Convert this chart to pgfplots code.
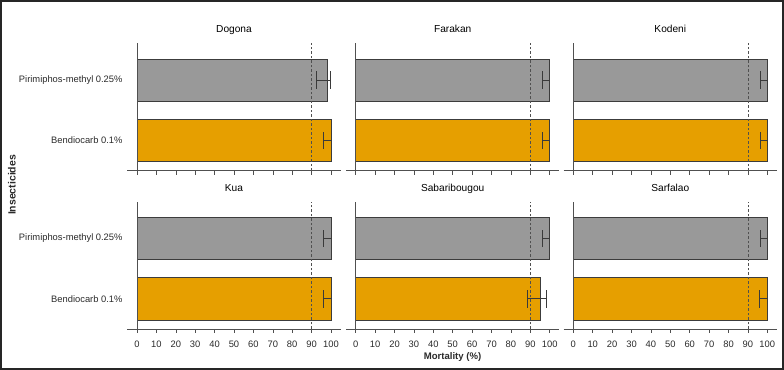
\documentclass[border=0pt]{standalone}
\usepackage{pgfplots}
\pgfplotsset{compat=1.18}
\usepackage{fontspec}
\setmainfont{Liberation Sans}
\definecolor{pgray}{HTML}{999999}
\definecolor{porange}{HTML}{E69F00}
\definecolor{edge}{HTML}{3C3C3C}
\definecolor{axisgray}{HTML}{505050}
\definecolor{errc}{HTML}{3A3A3A}
\definecolor{txt}{HTML}{2A2A2A}
\pgfplotsset{
  panel/.style={
    scale only axis, width=213.4bp, height=127.3bp,
    xmin=-5, xmax=105, ymin=-0.5, ymax=1.61,
    axis x line*=bottom, axis y line*=left,
    y axis line style={draw=none}, ytick style={draw=none},
    xtick={0,10,...,100}, ytick={0,1},
    xtick align=outside, major tick length=4bp,
    x axis line style={color=axisgray, line width=0.6bp},
    xtick style={color=axisgray, line width=0.6bp},
    tick label style={font=\fontsize{9.4}{10}\selectfont, color=txt},
    xticklabel style={anchor=base, yshift=-14bp},
    yticklabel style={inner sep=0pt, xshift=-4.6bp},
    /pgf/number format/assume math mode=true,
    title style={font=\fontsize{10.2}{12}\selectfont, anchor=base, yshift=4.6bp},
    anchor=north west, clip=false,
  },
  toprow/.style={xticklabels={}},
  firstcol/.style={yticklabels={Bendiocarb 0.1\%,Pirimiphos-methyl 0.25\%}},
  othercol/.style={yticklabels={}},
  barbase/.style={xbar, bar width=0.7, bar shift=0pt, draw=edge, line width=0.6bp},
  errboth/.style={error bars/.cd, x dir=both, x explicit,
    error bar style={color=errc, line width=0.8bp},
    error mark options={color=errc, line width=0.8bp, mark size=8.7bp, rotate=90}},
  errlow/.style={error bars/.cd, x dir=minus, x explicit,
    error bar style={color=errc, line width=0.8bp},
    error mark options={color=errc, line width=0.8bp, mark size=8.7bp, rotate=90}},
  refline/.style={color=axisgray, line width=0.7bp, dash pattern=on 2.5bp off 2bp},
  zeroline/.style={color=axisgray, line width=0.7bp},
}
\begin{document}
\begin{tikzpicture}
% ---- Row 1 ----
\begin{axis}[panel, toprow, firstcol, at={(127.3bp,326.7bp)}, title={Dogona}]
\addplot[barbase, fill=pgray, errboth] coordinates {(97.9,1) += (1.7,0) -= (5.5,0)};
\addplot[barbase, fill=porange, errlow] coordinates {(100,0) -= (4.0,0)};
\addplot[zeroline] coordinates {(0,-0.5) (0,1.61)};
\addplot[refline] coordinates {(90,-0.5) (90,1.61)};
\end{axis}
\begin{axis}[panel, toprow, othercol, at={(346.0bp,326.7bp)}, title={Farakan}]
\addplot[barbase, fill=pgray, errlow] coordinates {(100,1) -= (3.8,0)};
\addplot[barbase, fill=porange, errlow] coordinates {(100,0) -= (3.8,0)};
\addplot[zeroline] coordinates {(0,-0.5) (0,1.61)};
\addplot[refline] coordinates {(90,-0.5) (90,1.61)};
\end{axis}
\begin{axis}[panel, toprow, othercol, at={(563.6bp,326.7bp)}, title={Kodeni}]
\addplot[barbase, fill=pgray, errlow] coordinates {(100,1) -= (3.6,0)};
\addplot[barbase, fill=porange, errlow] coordinates {(100,0) -= (3.5,0)};
\addplot[zeroline] coordinates {(0,-0.5) (0,1.61)};
\addplot[refline] coordinates {(90,-0.5) (90,1.61)};
\end{axis}
% ---- Row 2 ----
\begin{axis}[panel, firstcol, at={(127.3bp,168.3bp)}, title={Kua}]
\addplot[barbase, fill=pgray, errlow] coordinates {(100,1) -= (4.0,0)};
\addplot[barbase, fill=porange, errlow] coordinates {(100,0) -= (3.7,0)};
\addplot[zeroline] coordinates {(0,-0.5) (0,1.61)};
\addplot[refline] coordinates {(90,-0.5) (90,1.61)};
\end{axis}
\begin{axis}[panel, othercol, at={(346.0bp,168.3bp)}, title={Sabaribougou}]
\addplot[barbase, fill=pgray, errlow] coordinates {(100,1) -= (3.7,0)};
\addplot[barbase, fill=porange, errboth] coordinates {(94.9,0) += (3.3,0) -= (6.3,0)};
\addplot[zeroline] coordinates {(0,-0.5) (0,1.61)};
\addplot[refline] coordinates {(90,-0.5) (90,1.61)};
\end{axis}
\begin{axis}[panel, othercol, at={(563.6bp,168.3bp)}, title={Sarfalao}]
\addplot[barbase, fill=pgray, errlow] coordinates {(100,1) -= (3.7,0)};
\addplot[barbase, fill=porange, errlow] coordinates {(100,0) -= (4.0,0)};
\addplot[zeroline] coordinates {(0,-0.5) (0,1.61)};
\addplot[refline] coordinates {(90,-0.5) (90,1.61)};
\end{axis}
% ---- Shared labels ----
\node[font=\bfseries\fontsize{9.6}{11}\selectfont, color=txt] at (452.5bp,13bp) {Mortality (\%)};
\node[font=\bfseries\fontsize{10.5}{12}\selectfont, color=txt, rotate=90] at (12bp,185bp) {Insecticides};
\pgfresetboundingbox
\useasboundingbox (0,0) rectangle (784bp,370bp);
\draw[line width=2.2bp, color=black!85] (1.1bp,1.1bp) rectangle (782.9bp,368.9bp);
\end{tikzpicture}
\end{document}
